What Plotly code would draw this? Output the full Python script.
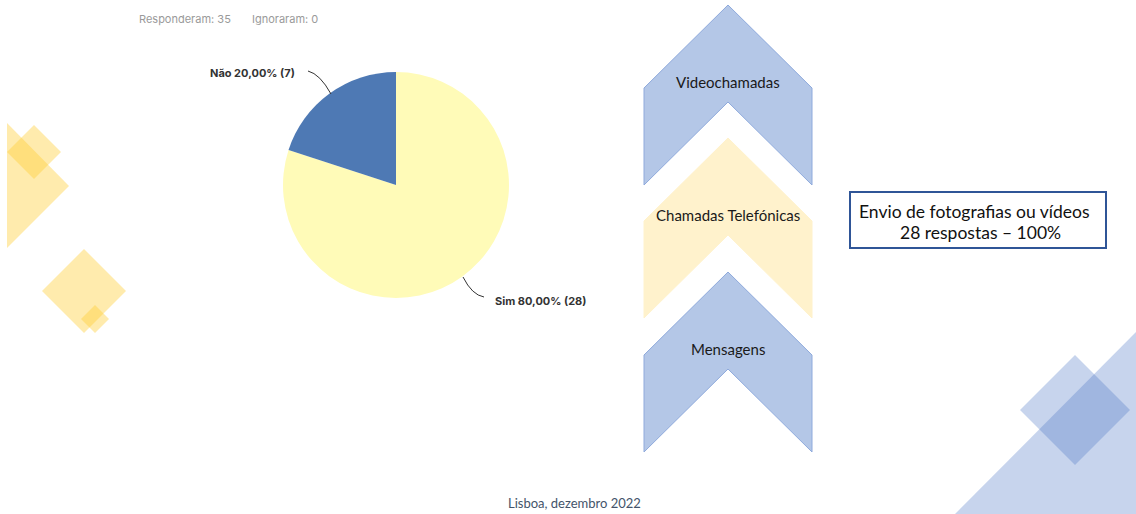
import plotly.graph_objects as go

W, H = 1136, 514

# Survey answers
answers = ["Não", "Sim"]
counts = [7, 28]
shares = [20.00, 80.00]
respondents = 35
ignored = 0

# Communication channels listed in the chevrons
channels = ["Videochamadas", "Chamadas Telefónicas", "Mensagens"]
highlight_title = "Envio de fotografias ou vídeos"
highlight_count = 28
highlight_share = 100

PIE_COLORS = {"Não": "#4E79B4", "Sim": "#FFFBB8"}
BLUE_FILL = "#B4C7E7"
BLUE_EDGE = "#8FAADC"
YELLOW_FILL = "#FFF2CC"

fig = go.Figure()

# invisible trace so the pixel-based cartesian frame exists for shapes
fig.add_trace(go.Scatter(x=[0, W], y=[0, H], mode="markers",
                         marker=dict(opacity=0), hoverinfo="skip", showlegend=False))

# pie: center (396,185), radius 113 in pixels; "Sim" runs clockwise from 12 o'clock
cx, cy, r = 396, 185, 113
order = answers[::-1]
fig.add_trace(go.Pie(
    labels=order, values=counts[::-1], sort=False, direction="clockwise",
    rotation=0, marker=dict(colors=[PIE_COLORS[a] for a in order], line=dict(width=0)),
    textinfo="none", hoverinfo="label+value", showlegend=False,
    domain=dict(x=[(cx - r) / W, (cx + r) / W], y=[1 - (cy + r) / H, 1 - (cy - r) / H]),
))

shapes = []


def poly(pts, fill, line_color=None, line_width=0, layer="below"):
    path = "M " + " L ".join(f"{x},{y}" for x, y in pts) + " Z"
    shapes.append(dict(type="path", path=path, xref="x", yref="y",
                       fillcolor=fill, layer=layer,
                       line=dict(color=line_color or "rgba(0,0,0,0)", width=line_width)))


def diamond(x, y, h, fill):
    poly([(x, y - h), (x + h, y), (x, y + h), (x - h, y)], fill)


# yellow decorations on the left
ylw = "rgba(255,204,51,0.4)"
poly([(7, 123), (69, 186), (7, 248)], ylw)
diamond(34, 152, 27, ylw)
diamond(84, 291, 42, ylw)
diamond(95, 319, 14, ylw)

# blue decorations bottom right
blu = "rgba(68,114,196,0.3)"
poly([(955, 514), (1136, 332), (1136, 514)], blu)
diamond(1075, 410, 55, blu)

# chevrons
chev_tops = [5, 138, 272]
chev_fills = [BLUE_FILL, YELLOW_FILL, BLUE_FILL]
chev_edges = [BLUE_EDGE, YELLOW_FILL, BLUE_EDGE]
for top, fill, edge in zip(chev_tops, chev_fills, chev_edges):
    poly([(728, top), (812, top + 83), (812, top + 180), (728, top + 97),
          (644, top + 180), (644, top + 83)], fill, edge, 1, layer="above")

# highlight box
shapes.append(dict(type="rect", xref="x", yref="y", x0=850, y0=192, x1=1106, y1=248,
                   fillcolor="white", line=dict(color="#2F5597", width=2)))

# pie leader lines
shapes.append(dict(type="path", xref="x", yref="y", path="M 308,71 Q 320,74 331,94",
                   line=dict(color="#333333", width=1)))
shapes.append(dict(type="path", xref="x", yref="y", path="M 463,277 Q 472,295 484,297",
                   line=dict(color="#333333", width=1)))

ann = []


def text(x, y, s, size, color, anchor="center", family="Lato, sans-serif"):
    ann.append(dict(x=x, y=y, xref="x", yref="y", text=s, showarrow=False,
                    xanchor=anchor, yanchor="middle",
                    font=dict(size=size, color=color, family=family)))


hdr = "Inter, sans-serif"
text(137, 19, f"Responderam: {respondents}", 11, "#9A9A9A", "left", hdr)
text(250, 19, f"Ignoraram: {ignored}", 11, "#9A9A9A", "left", hdr)

lab = [f"<b>{a} {s:.2f}% ({c})</b>".replace(".", ",") for a, s, c in zip(answers, shares, counts)]
text(297, 73, lab[0], 11, "#333333", "right", hdr)
text(493, 301, lab[1], 11, "#333333", "left", hdr)

for top, name in zip(chev_tops, channels):
    text(728, top + 77, name, 15, "#1A1A1A")

text(974, 211, highlight_title, 17.5, "#111111")
text(980, 232, f"{highlight_count} respostas – {highlight_share}%", 17.5, "#111111")

text(574, 503, "Lisboa, dezembro 2022", 13, "#44546A")

fig.update_layout(
    width=W, height=H, margin=dict(l=0, r=0, t=0, b=0),
    paper_bgcolor="white", plot_bgcolor="white",
    xaxis=dict(range=[0, W], visible=False, fixedrange=True),
    yaxis=dict(range=[H, 0], visible=False, fixedrange=True),
    shapes=shapes, annotations=ann,
)

fig.write_html("out.html")
